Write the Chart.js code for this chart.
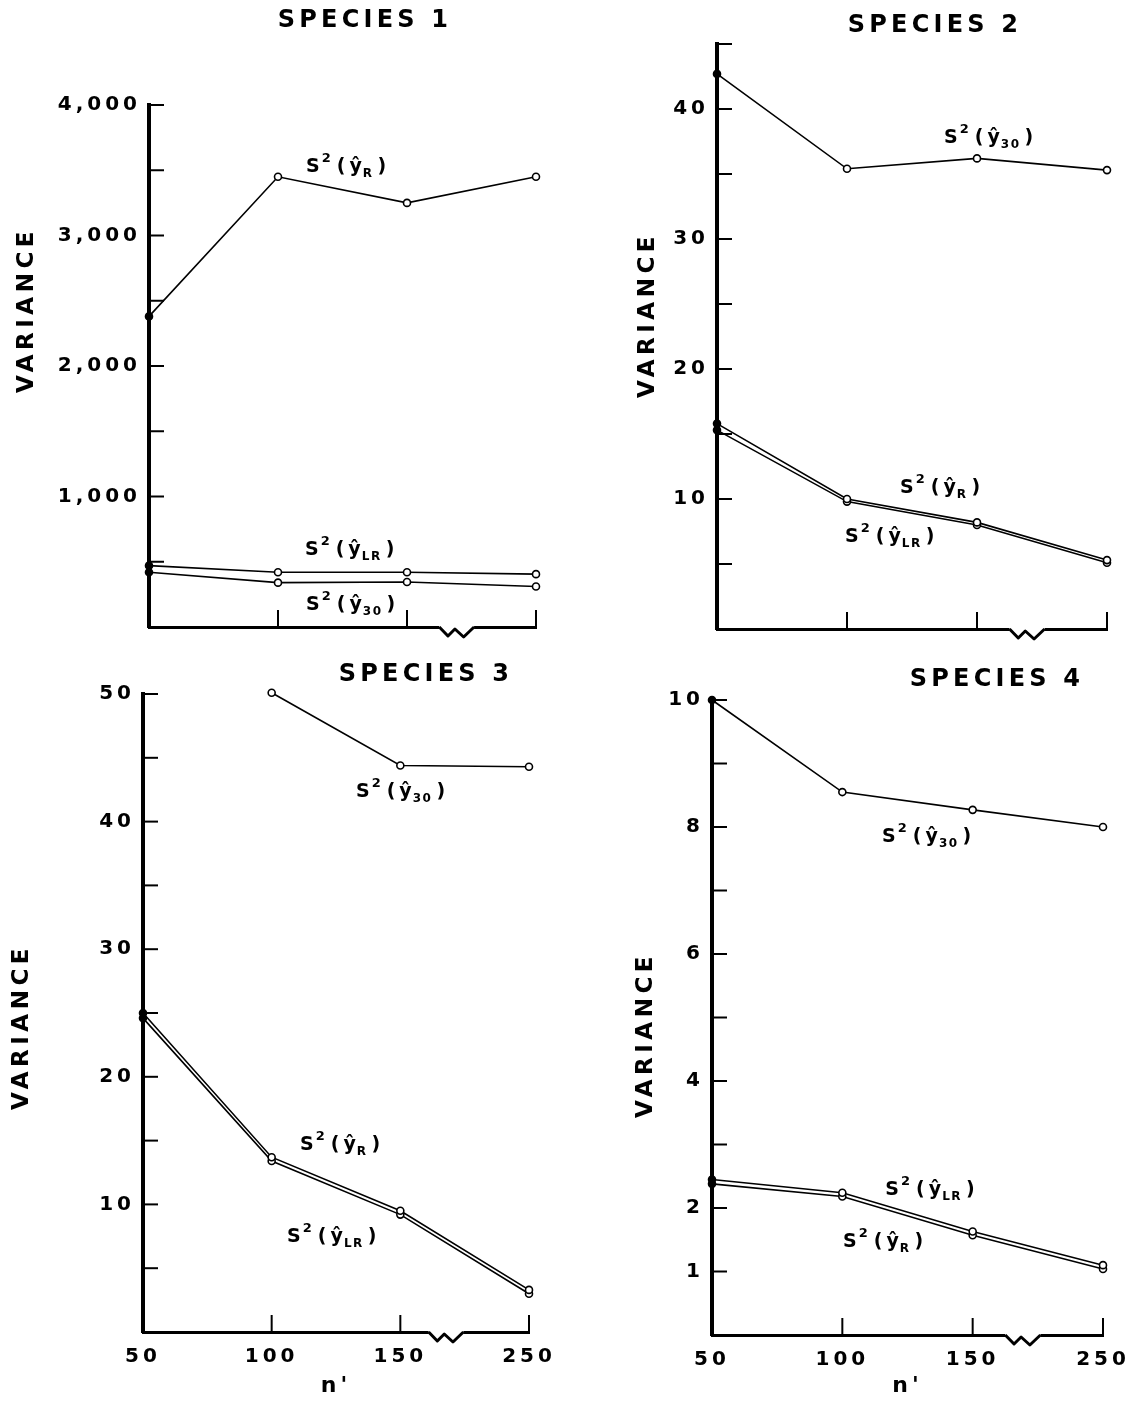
<!DOCTYPE html>
<html>
<head>
<meta charset="utf-8">
<script src="https://cdn.jsdelivr.net/npm/chart.js@4.4.1/dist/chart.umd.min.js"></script>
<style>
  html, body { margin: 0; padding: 0; background: #fff; }
  #wrap { position: relative; width: 1138px; height: 1401px; }
  canvas { position: absolute; }
</style>
</head>
<body>
<div id="wrap">
  <canvas id="sp1" width="569" height="650" style="left:0px;top:0px"></canvas>
  <canvas id="sp2" width="569" height="650" style="left:569px;top:0px"></canvas>
  <canvas id="sp3" width="569" height="751" style="left:0px;top:650px"></canvas>
  <canvas id="sp4" width="569" height="751" style="left:569px;top:650px"></canvas>
</div>
<script>
// n' categories (axis broken between 150 and 250)
var nPrime = ['50', '100', '150', '250'];

// species 1
var sp1_R  = [2380, 3450, 3250, 3450];
var sp1_LR = [470, 420, 420, 405];
var sp1_30 = [420, 340, 345, 310];
var sp1Ticks = [1000, 2000, 3000, 4000];

// species 2
var sp2_30 = [42.7, 35.4, 36.2, 35.3];
var sp2_R  = [15.8, 10.0, 8.2, 5.3];
var sp2_LR = [15.3, 9.8, 8.0, 5.1];
var sp2Ticks = [10, 20, 30, 40];

// species 3
var sp3_30 = [null, 50.1, 44.4, 44.3];
var sp3_R  = [25.0, 13.7, 9.5, 3.3];
var sp3_LR = [24.6, 13.4, 9.2, 3.0];
var sp3Ticks = [10, 20, 30, 40, 50];

// species 4
var sp4_30 = [10.0, 8.55, 8.27, 8.0];
var sp4_LR = [2.45, 2.24, 1.63, 1.1];
var sp4_R  = [2.38, 2.18, 1.57, 1.04];
var sp4Ticks = [1, 2, 4, 6, 8, 10];

var FONT = "'DejaVu Sans', sans-serif";
Chart.defaults.font.family = FONT;
Chart.defaults.color = '#000';

// S²(ŷ_sub) label
function drawSLabel(ctx, x, y, sub) {
    ctx.save();
    ctx.fillStyle = '#000';
    ctx.textAlign = 'left';
    ctx.textBaseline = 'alphabetic';
    ctx.letterSpacing = '0px';
    ctx.font = 'bold 19px ' + FONT;
    ctx.fillText('S', x, y);
    x += ctx.measureText('S').width + 2;
    ctx.font = 'bold 13px ' + FONT;
    ctx.fillText('2', x, y - 10);
    x += ctx.measureText('2').width + 6;
    ctx.font = 'bold 19px ' + FONT;
    ctx.fillText('(', x, y);
    x += ctx.measureText('(').width + 4;
    ctx.fillText('ŷ', x, y);
    x += ctx.measureText('ŷ').width + 1;
    ctx.font = 'bold 12px ' + FONT;
    ctx.letterSpacing = '1.5px';
    ctx.fillText(sub, x, y + 5);
    x += ctx.measureText(sub).width + 4;
    ctx.letterSpacing = '0px';
    ctx.font = 'bold 19px ' + FONT;
    ctx.fillText(')', x, y);
    ctx.restore();
}

var panelDecor = {
    id: 'panelDecor',
    beforeDraw: function(chart) {
        chart.ctx.letterSpacing = '4px';
    },
    afterDraw: function(chart, args, opts) {
        var ctx = chart.ctx;
        var area = chart.chartArea;
        var xs = chart.scales.x;
        var ys = chart.scales.y;

        ctx.save();
        ctx.strokeStyle = '#000';
        ctx.lineWidth = 2;

        // tick marks pointing into the plot
        ys.ticks.forEach(function(t) {
            var py = ys.getPixelForValue(t.value);
            ctx.beginPath();
            ctx.moveTo(area.left, py);
            ctx.lineTo(area.left + 15, py);
            ctx.stroke();
        });
        for (var i = 1; i < nPrime.length; i++) {
            var px = xs.getPixelForValue(i);
            ctx.beginPath();
            ctx.moveTo(px, area.bottom);
            ctx.lineTo(px, area.bottom - 17);
            ctx.stroke();
        }

        // axis break between 150 and 250
        var b0 = xs.getPixelForValue(opts.breakFrom);
        var b1 = xs.getPixelForValue(opts.breakTo);
        var w = b1 - b0;
        var yb = area.bottom;
        ctx.fillStyle = '#fff';
        ctx.fillRect(b0, yb - 3, w, 6);
        ctx.lineWidth = 3;
        ctx.lineJoin = 'round';
        ctx.beginPath();
        ctx.moveTo(b0, yb);
        ctx.lineTo(b0 + w * 0.25, yb + 9);
        ctx.lineTo(b0 + w * 0.45, yb + 2);
        ctx.lineTo(b0 + w * 0.7, yb + 10);
        ctx.lineTo(b1, yb);
        ctx.stroke();

        // panel title
        ctx.fillStyle = '#000';
        ctx.textAlign = 'center';
        ctx.textBaseline = 'middle';
        ctx.font = 'bold 24px ' + FONT;
        ctx.letterSpacing = '4.2px';
        ctx.fillText(opts.title.text, opts.title.x, opts.title.y);

        // y axis title
        ctx.save();
        ctx.translate(opts.yTitle.x, opts.yTitle.y);
        ctx.rotate(-Math.PI / 2);
        ctx.font = 'bold 23px ' + FONT;
        ctx.letterSpacing = '4.5px';
        ctx.fillText('VARIANCE', 2, 0);
        ctx.restore();

        // series labels
        opts.labels.forEach(function(l) {
            drawSLabel(ctx, xs.getPixelForValue(l.at[0]), ys.getPixelForValue(l.at[1]), l.sub);
        });
        ctx.restore();
    }
};

function series(values) {
    return {
        data: values,
        borderColor: '#000',
        borderWidth: 1.6,
        pointRadius: 3.5,
        pointBorderWidth: 1.6,
        pointBorderColor: '#000',
        pointBackgroundColor: values.map(function(v, i) { return i === 0 ? '#000' : '#fff'; }),
        tension: 0,
        clip: false
    };
}

function makePanel(id, p) {
    return new Chart(document.getElementById(id), {
        type: 'line',
        data: { labels: nPrime, datasets: p.datasets },
        options: {
            responsive: false,
            animation: false,
            events: [],
            layout: { padding: { left: 0, right: p.right, top: p.top, bottom: 0 } },
            plugins: {
                legend: { display: false },
                tooltip: { enabled: false },
                panelDecor: p.decor
            },
            scales: {
                x: {
                    type: 'category',
                    offset: false,
                    grid: { display: false },
                    border: { display: true, color: '#000', width: 3 },
                    ticks: { display: p.showX, padding: 5, font: { size: 20, weight: 'bold' }, color: '#000', maxRotation: 0, autoSkip: false },
                    title: { display: p.showX, text: "n'", font: { size: 22, weight: 'bold' }, color: '#000', padding: { top: 0, bottom: 2 } },
                    afterFit: function(s) { s.height = p.xHeight; }
                },
                y: {
                    min: 0,
                    max: p.yMax,
                    grid: { display: false },
                    border: { display: true, color: '#000', width: 4 },
                    ticks: {
                        stepSize: p.step,
                        autoSkip: false,
                        padding: 0,
                        font: { size: 20, weight: 'bold' },
                        color: '#000',
                        callback: function(v) {
                            return p.tickLabels.indexOf(v) >= 0 ? v.toLocaleString('en-US') : '';
                        }
                    },
                    afterFit: function(s) { s.width = p.yWidth; }
                }
            }
        },
        plugins: [panelDecor]
    });
}

makePanel('sp1', {
    datasets: [series(sp1_R), series(sp1_LR), series(sp1_30)],
    yMax: 4000, step: 500, tickLabels: sp1Ticks,
    yWidth: 149, right: 33, top: 105, xHeight: 23, showX: false,
    decor: {
        breakFrom: 2.25, breakTo: 2.52,
        title: { text: 'SPECIES 1', x: 365, y: 21 },
        yTitle: { x: 27, y: 312 },
        labels: [
            { sub: 'R', at: [1.217, 3487] },
            { sub: 'LR', at: [1.209, 552] },
            { sub: '30', at: [1.217, 130] }
        ]
    }
});

makePanel('sp2', {
    datasets: [series(sp2_30), series(sp2_R), series(sp2_LR)],
    yMax: 45, step: 5, tickLabels: sp2Ticks,
    yWidth: 148, right: 31, top: 44, xHeight: 21, showX: false,
    decor: {
        breakFrom: 2.25, breakTo: 2.52,
        title: { text: 'SPECIES 2', x: 366, y: 26 },
        yTitle: { x: 79, y: 317 },
        labels: [
            { sub: '30', at: [1.746, 37.4] },
            { sub: 'R', at: [1.408, 10.5] },
            { sub: 'LR', at: [0.985, 6.7] }
        ]
    }
});

makePanel('sp3', {
    datasets: [series(sp3_30), series(sp3_R), series(sp3_LR)],
    yMax: 50, step: 5, tickLabels: sp3Ticks,
    yWidth: 143, right: 40, top: 44, xHeight: 69, showX: true,
    decor: {
        breakFrom: 2.22, breakTo: 2.49,
        title: { text: 'SPECIES 3', x: 426, y: 25 },
        yTitle: { x: 22, y: 379 },
        labels: [
            { sub: '30', at: [1.655, 41.9] },
            { sub: 'R', at: [1.22, 14.3] },
            { sub: 'LR', at: [1.12, 7.05] }
        ]
    }
});

makePanel('sp4', {
    datasets: [series(sp4_30), series(sp4_LR), series(sp4_R)],
    yMax: 10, step: 1, tickLabels: sp4Ticks,
    yWidth: 143, right: 35, top: 50, xHeight: 66, showX: true,
    decor: {
        breakFrom: 2.25, breakTo: 2.52,
        title: { text: 'SPECIES 4', x: 428, y: 30 },
        yTitle: { x: 77, y: 387 },
        labels: [
            { sub: '30', at: [1.305, 7.76] },
            { sub: 'LR', at: [1.33, 2.2] },
            { sub: 'R', at: [1.005, 1.39] }
        ]
    }
});
</script>
</body>
</html>
